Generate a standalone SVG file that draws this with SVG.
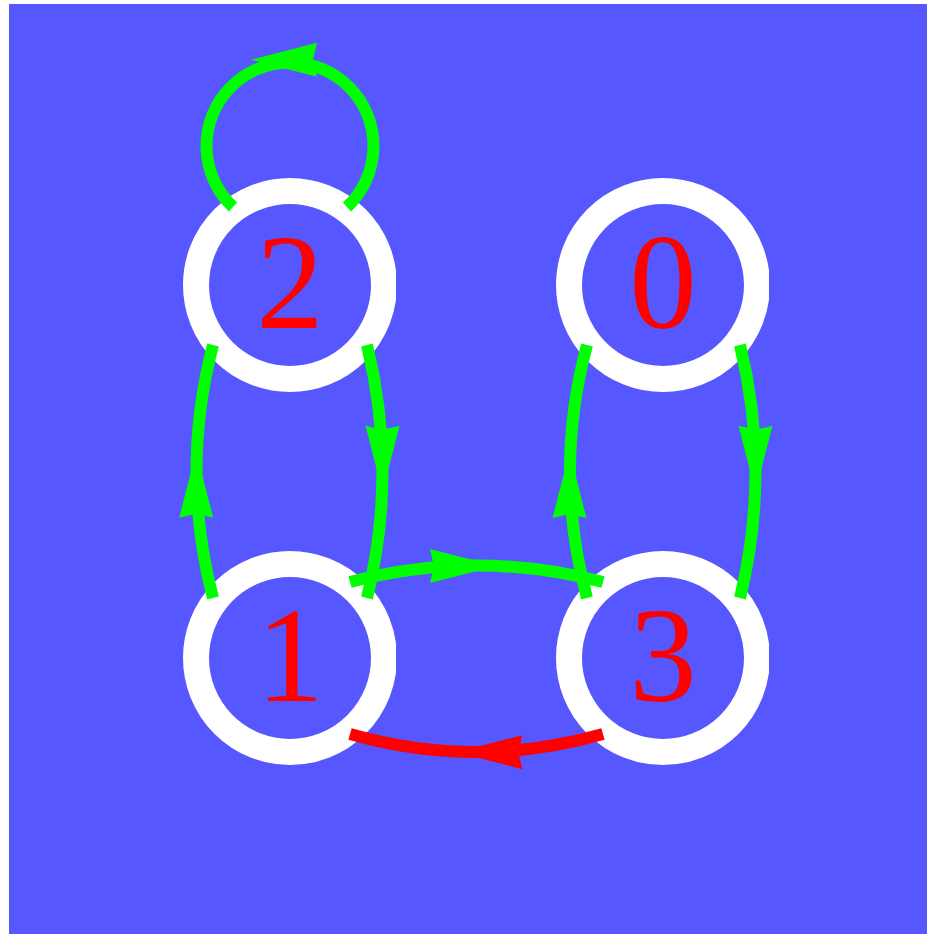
<svg xmlns="http://www.w3.org/2000/svg" width="927" height="934" viewBox="0 0 927 934">
  <style>
    .ring { fill: #5757ff; stroke: #ffffff; stroke-width: 26; }
    .label { font-family: "Liberation Serif", "Times New Roman", serif; font-size: 135px; fill: #ff0000; text-anchor: middle; }
    .edge { fill: none; stroke-width: 12; stroke-linecap: butt; }
    .green { stroke: #00ff00; }
    .red { stroke: #ff0000; }
    .head-green { fill: #00ff00; }
    .head-red { fill: #ff0000; }
  </style>
  <defs>
    <!-- arrowhead with its tip at the origin, pointing along +x -->
    <path id="head" d="M0,0 L-66,-17 L-62,0 L-66,17 Z"/>
    <!-- node rings are trimmed by a pixel on their right side -->
    <clipPath id="clip-left"><rect x="0" y="0" width="396" height="934"/></clipPath>
    <clipPath id="clip-right"><rect x="0" y="0" width="769" height="934"/></clipPath>
  </defs>

  <rect x="9" y="4" width="918" height="930" fill="#5757ff"/>

  <g id="node-2">
    <circle class="ring" cx="290" cy="285" r="94" clip-path="url(#clip-left)"/>
    <text class="label" x="290" y="328">2</text>
  </g>
  <g id="node-0">
    <circle class="ring" cx="663" cy="285" r="94" clip-path="url(#clip-right)"/>
    <text class="label" x="663" y="328">0</text>
  </g>
  <g id="node-1">
    <circle class="ring" cx="290" cy="658" r="94" clip-path="url(#clip-left)"/>
    <text class="label" x="290" y="701">1</text>
  </g>
  <g id="node-3">
    <circle class="ring" cx="663" cy="658" r="94" clip-path="url(#clip-right)"/>
    <text class="label" x="663" y="701">3</text>
  </g>

  <g id="edges">
    <!-- 2 -> 2 self loop -->
    <path class="edge green" d="M347,207 A83.5,83.5 0 1 0 233,207"/>
    <use href="#head" class="head-green" transform="translate(251,59.7) rotate(180)"/>

    <!-- 1 -> 2 -->
    <path class="edge green" d="M213,598 Q180,471.5 213,345"/>
    <use href="#head" class="head-green" transform="translate(196.2,451.7) rotate(-90)"/>

    <!-- 2 -> 1 -->
    <path class="edge green" d="M367,345 Q398,471.5 367,598"/>
    <use href="#head" class="head-green" transform="translate(382.5,491.7) rotate(90)"/>

    <!-- 3 -> 0 -->
    <path class="edge green" d="M587,598 Q553,471.5 587,345"/>
    <use href="#head" class="head-green" transform="translate(569.5,452) rotate(-90)"/>

    <!-- 0 -> 3 -->
    <path class="edge green" d="M740,345 Q771,471.5 740,598"/>
    <use href="#head" class="head-green" transform="translate(755.5,491.7) rotate(90)"/>

    <!-- 1 -> 3 -->
    <path class="edge green" d="M350,582 Q476.5,549 603,582"/>
    <use href="#head" class="head-green" transform="translate(496,565.9)"/>

    <!-- 3 -> 1 -->
    <path class="edge red" d="M603,734 Q476.5,770 350,734"/>
    <use href="#head" class="head-red" transform="translate(456.3,752.2) rotate(180)"/>
  </g>
</svg>
